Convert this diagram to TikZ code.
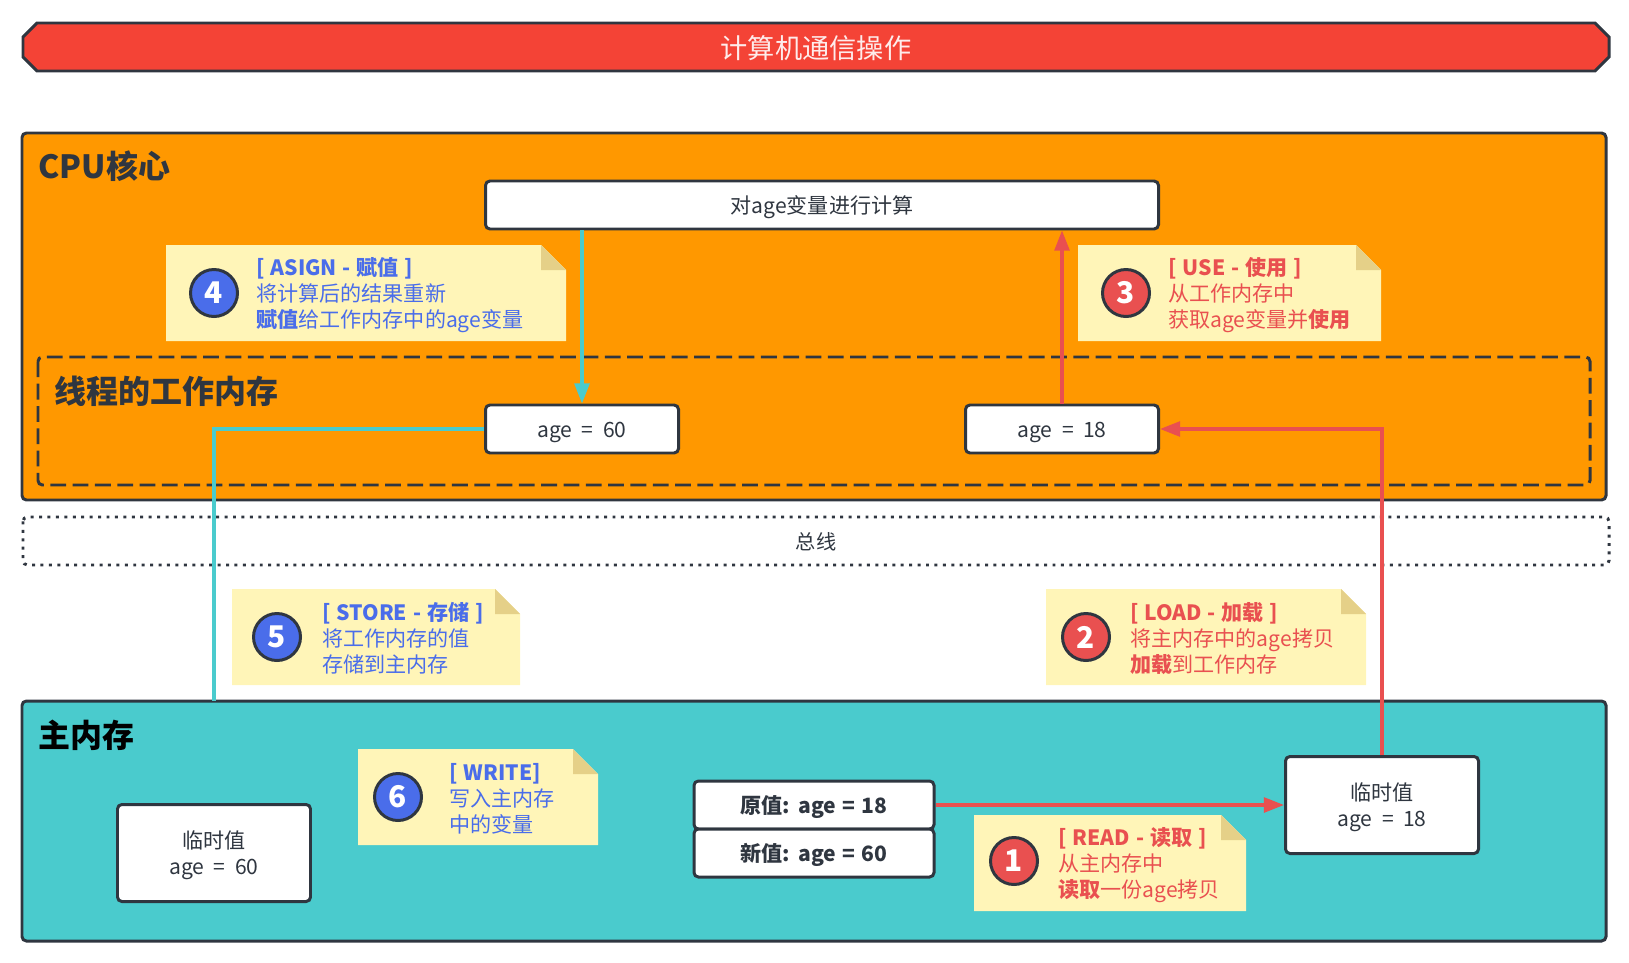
\documentclass[tikz,border=0pt]{standalone}
\usepackage{fontspec}
\usepackage{xcolor}
\setmainfont{Noto Sans CJK SC}
\usetikzlibrary{arrows.meta}
\definecolor{inkColor}{HTML}{2F3640}
\definecolor{titleColor}{HTML}{F44336}
\definecolor{cpuColor}{HTML}{FF9800}
\definecolor{memColor}{HTML}{4ACBCD}
\definecolor{paperColor}{HTML}{FFF5B8}
\definecolor{foldColor}{HTML}{E5D088}
\definecolor{blueColor}{HTML}{4A6DEA}
\definecolor{redColor}{HTML}{E95050}
\def\px{0.02cm}
\tikzset{
    valuebox/.style={draw=inkColor, line width=1.7pt, rounded corners=2.5pt, fill=white, text=inkColor,
        inner sep=0pt, align=center, text height=11pt, text depth=1pt,
        font=\fontsize{12}{15}\selectfont, execute at begin node={\spaceskip=.45em\relax}},
    tempbox/.style={valuebox, text height=26pt, text depth=1.3pt, minimum width=193*\px, minimum height=97*\px},
    boldbox/.style={valuebox, minimum width=240*\px, minimum height=48*\px,
        font=\fontsize{12}{15}\selectfont\bfseries, execute at begin node={\spaceskip=.3em\relax}},
    panel/.style={draw=inkColor, line width=1.7pt, rounded corners=2.5pt},
    paneltitle/.style={anchor=west, inner sep=0pt, font=\fontsize{18.2}{22}\selectfont\bfseries},
    notetext/.style={anchor=west, inner sep=0pt, align=left, yshift=-1pt,
        font=\fontsize{12}{14.8}\selectfont, execute at begin node={\spaceskip=.28em\relax}},
    badge/.style={circle, draw=inkColor, line width=1.7pt, inner sep=0pt, minimum size=47*\px,
        text=white, font=\fontsize{17}{17}\selectfont\bfseries},
    link/.style={line width=1.75pt, -{Triangle[length=11.5pt,width=8.5pt]}},
}
\begin{document}
\begin{tikzpicture}[x=0.02cm, y=-0.02cm]

    \useasboundingbox (0,0) rectangle (1629,963);

    \draw[fill=titleColor, draw=inkColor, line width=1.7pt]
        (37,23) -- (1595,23) -- (1609,37) -- (1609,57) -- (1595,71) -- (37,71) -- (23,57) -- (23,37) -- cycle;
    \node[text=white!90!titleColor, font=\fontsize{15.5}{18}\selectfont] (title) at (816,48) {计算机通信操作};

    \draw[panel, fill=cpuColor] (22,133) rectangle (1606,500);
    \node[paneltitle, text=inkColor] (cpuname) at (38,166) {CPU核心};
    \draw[panel, dash pattern=on 9pt off 3.7pt] (38,357) rectangle (1590,485);
    \node[paneltitle, text=inkColor] (threadname) at (54,391) {线程的工作内存};

    \draw[panel, dash pattern=on 1.7pt off 3.1pt] (23,517) rectangle (1609,565);
    \node[text=inkColor, font=\fontsize{11.5}{14}\selectfont] (bus) at (816,542) {总线};

    \draw[panel, fill=memColor] (22,701) rectangle (1606,941);
    \node[paneltitle, text=black] (memname) at (38,735) {主内存};

    \node[valuebox, minimum width=673*\px, minimum height=48*\px] (compute) at (822,205) {对age变量进行计算};
    \node[valuebox, minimum width=193*\px, minimum height=48*\px] (age60) at (582,429) {age = 60};
    \node[valuebox, minimum width=193*\px, minimum height=48*\px] (age18) at (1062,429) {age = 18};
    \node[tempbox] (temp60) at (214,853) {临时值\\age = 60};
    \node[tempbox] (temp18) at (1382,805) {临时值\\age = 18};
    \node[boldbox] (oldval) at (814,805) {原值: age = 18};
    \node[boldbox] (newval) at (814,853) {新值: age = 60};

    \coordinate (memtop) at (214,701);
    \draw[link, memColor] (compute.south -| age60.north) -- (age60.north);
    \draw[line width=1.75pt, memColor] (age60.west) -| (memtop);
    \draw[link, redColor] (age18.north) -- (age18.north |- compute.south);
    \draw[link, redColor] (temp18.north) |- (age18.east);
    \draw[link, redColor] (oldval.east) -- (temp18.west);

    \foreach \num/\ink/\xa/\xb/\ya/\xc/\yc/\xt/\body in {
        1/redColor/974/1246/815/1014/861/1058/{{\bfseries [ READ - 读取 ]}\\从主内存中\\{\bfseries 读取}一份age拷贝},
        2/redColor/1046/1366/589/1086/637/1130/{{\bfseries [ LOAD - 加载 ]}\\将主内存中的age拷贝\\{\bfseries 加载}到工作内存},
        3/redColor/1078/1381/245/1126/293/1168/{{\bfseries [ USE - 使用 ]}\\从工作内存中\\获取age变量并{\bfseries 使用}},
        4/blueColor/166/566/245/214/293/256/{{\bfseries [ ASIGN - 赋值 ]}\\将计算后的结果重新\\{\bfseries 赋值}给工作内存中的age变量},
        5/blueColor/232/520/589/277/637/322/{{\bfseries [ STORE - 存储 ]}\\将工作内存的值\\存储到主内存},
        6/blueColor/358/598/749/398/797/449/{{\bfseries [ WRITE]}\\写入主内存\\中的变量}} {
        \fill[paperColor] (\xa,\ya) -- (\xb-25,\ya) -- (\xb,\ya+25) -- (\xb,\ya+96) -- (\xa,\ya+96) -- cycle;
        \fill[foldColor] (\xb-25,\ya) -- (\xb,\ya+25) -- (\xb-25,\ya+25) -- cycle;
        \node[badge, fill=\ink] (badge\num) at (\xc,\yc) {\num};
        \node[notetext, text=\ink] (note\num) at (\xt,\ya+48) {\body};
    }
\end{tikzpicture}
\end{document}
